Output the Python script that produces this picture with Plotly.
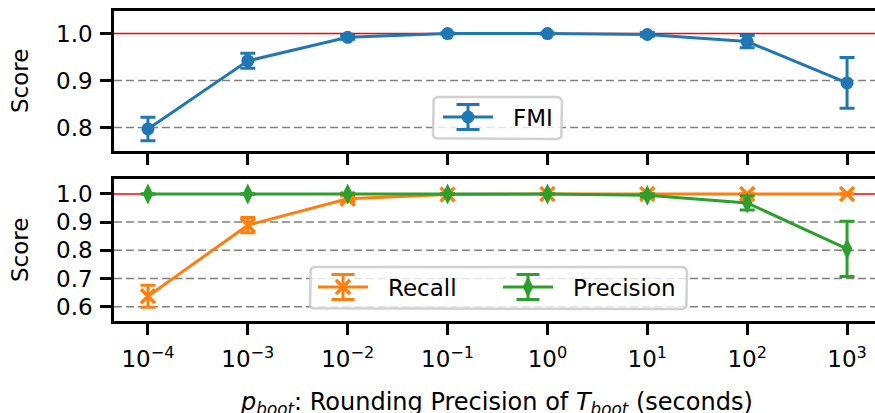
import plotly.graph_objects as go

# ---------------- data ----------------
p_boot = [1e-4, 1e-3, 1e-2, 1e-1, 1e0, 1e1, 1e2, 1e3]
tick_labels = ["10<sup>−4</sup>", "10<sup>−3</sup>", "10<sup>−2</sup>", "10<sup>−1</sup>",
               "10<sup>0</sup>", "10<sup>1</sup>", "10<sup>2</sup>", "10<sup>3</sup>"]
fmi = [0.797, 0.942, 0.992, 1.000, 1.000, 0.998, 0.983, 0.895]
fmi_err = [0.025, 0.016, 0.004, 0.001, 0.001, 0.004, 0.013, 0.054]
recall = [0.637, 0.889, 0.983, 0.998, 1.000, 1.000, 1.000, 1.000]
recall_err = [0.039, 0.027, 0.010, 0.002, 0.001, 0.001, 0.001, 0.001]
precision = [1.000, 1.000, 1.000, 1.000, 1.000, 0.995, 0.968, 0.805]
precision_err = [0.001, 0.001, 0.001, 0.001, 0.001, 0.006, 0.025, 0.098]
top_ticks = [0.8, 0.9, 1.0]
bottom_ticks = [0.6, 0.7, 0.8, 0.9, 1.0]
reference_score = 1.0

BLUE, ORANGE, GREEN = "#1f77b4", "#ff7f0e", "#2ca02c"
W, H = 875, 413
FONT = "DejaVu Sans"
FS = 23


def px_x(v):
    return v / W


def px_y(v):
    return 1 - v / H


fig = go.Figure()


def err(arr, color):
    return dict(type="data", array=arr, visible=True, color=color, thickness=3, width=7.5)


fig.add_trace(go.Scatter(x=p_boot, y=fmi, error_y=err(fmi_err, BLUE), mode="lines+markers",
                         line=dict(color=BLUE, width=3), marker=dict(symbol="circle", size=13, color=BLUE),
                         xaxis="x", yaxis="y", showlegend=False))
fig.add_trace(go.Scatter(x=p_boot, y=recall, error_y=err(recall_err, ORANGE), mode="lines+markers",
                         line=dict(color=ORANGE, width=3),
                         marker=dict(symbol="x-thin", size=14, color=ORANGE, line=dict(color=ORANGE, width=3.5)),
                         xaxis="x2", yaxis="y2", showlegend=False))
fig.add_trace(go.Scatter(x=p_boot, y=precision, error_y=err(precision_err, GREEN), mode="lines+markers",
                         line=dict(color=GREEN, width=3),
                         marker=dict(symbol="diamond-tall", size=15, color=GREEN),
                         xaxis="x2", yaxis="y2", showlegend=False))


# ---------------- custom legends (overlay pixel axis) ----------------
def rounded_box(x0, y0, x1, y1, r=5, n=6):
    import math
    pts = []
    corners = [(x1 - r, y0 + r, -90), (x1 - r, y1 - r, 0), (x0 + r, y1 - r, 90), (x0 + r, y0 + r, 180)]
    for cx, cy, a0 in corners:
        for i in range(n + 1):
            a = math.radians(a0 + 90 * i / n)
            pts.append((cx + r * math.cos(a), cy + r * math.sin(a)))
    pts.append(pts[0])
    return [p[0] for p in pts], [p[1] for p in pts]


def legend_box(x0, y0, x1, y1):
    bx, by = rounded_box(x0, y0, x1, y1)
    fig.add_trace(go.Scatter(x=bx, y=by, mode="lines", fill="toself", fillcolor="rgba(255,255,255,0.8)",
                             line=dict(color="rgba(204,204,204,0.9)", width=2.5), xaxis="x3", yaxis="y3",
                             showlegend=False, hoverinfo="skip"))


def legend_glyph(xc, yc, color, marker):
    fig.add_trace(go.Scatter(x=[xc - 25, xc + 25], y=[yc, yc], mode="lines", line=dict(color=color, width=3),
                             xaxis="x3", yaxis="y3", showlegend=False, hoverinfo="skip"))
    fig.add_trace(go.Scatter(x=[xc], y=[yc], mode="markers", marker=marker,
                             error_y=dict(type="constant", value=12.5, color=color, thickness=3, width=11.5),
                             xaxis="x3", yaxis="y3", showlegend=False, hoverinfo="skip"))


legend_box(433, 97, 562, 139)
legend_glyph(468, 117, BLUE, dict(symbol="circle", size=13, color=BLUE))
legend_box(310, 267, 687, 309)
legend_glyph(343, 287, ORANGE, dict(symbol="x-thin", size=14, color=ORANGE, line=dict(color=ORANGE, width=3.5)))
legend_glyph(528, 287, GREEN, dict(symbol="diamond-tall", size=15, color=GREEN))

annotations = [
    dict(text="FMI", x=px_x(511), y=px_y(118), xref="paper", yref="paper", xanchor="left", yanchor="middle",
         showarrow=False, font=dict(family=FONT, size=FS, color="black")),
    dict(text="Recall", x=px_x(386), y=px_y(288), xref="paper", yref="paper", xanchor="left", yanchor="middle",
         showarrow=False, font=dict(family=FONT, size=FS, color="black")),
    dict(text="Precision", x=px_x(571), y=px_y(288), xref="paper", yref="paper", xanchor="left",
         yanchor="middle", showarrow=False, font=dict(family=FONT, size=FS, color="black")),
    dict(text="Score", x=px_x(20), y=px_y(81), xref="paper", yref="paper", textangle=-90, xanchor="center",
         yanchor="middle", showarrow=False, font=dict(family=FONT, size=FS, color="black")),
    dict(text="Score", x=px_x(20), y=px_y(250), xref="paper", yref="paper", textangle=-90, xanchor="center",
         yanchor="middle", showarrow=False, font=dict(family=FONT, size=FS, color="black")),
    dict(text="<i>p</i><sub><i>boot</i></sub>: Rounding Precision of <i>T</i><sub><i>boot</i></sub> (seconds)",
         x=px_x(496), y=px_y(403), xref="paper", yref="paper", xanchor="center", yanchor="middle",
         showarrow=False, font=dict(family=FONT, size=24, color="black")),
]

# dashed grid lines (as shapes so the red reference line can sit on top of them)
grid_style = dict(color="#808080", width=1.5, dash="8px,4px")
shapes = []
for v in top_ticks:
    if v != reference_score:
        shapes.append(dict(type="line", xref="x domain", yref="y", x0=0, x1=1, y0=v, y1=v,
                           line=grid_style, layer="below"))
for v in bottom_ticks:
    if v != reference_score:
        shapes.append(dict(type="line", xref="x2 domain", yref="y2", x0=0, x1=1, y0=v, y1=v,
                           line=grid_style, layer="below"))
shapes += [
    dict(type="line", xref="x domain", yref="y", x0=0, x1=1, y0=reference_score, y1=reference_score,
         line=dict(color="red", width=1.5), layer="below"),
    dict(type="line", xref="x2 domain", yref="y2", x0=0, x1=1, y0=reference_score, y1=reference_score,
         line=dict(color="red", width=1.5), layer="below"),
]

xdom = [px_x(114), 1.0]
common_x = dict(type="log", range=[-4.34, 3.28], domain=xdom, showline=True, linecolor="black", linewidth=2.5,
                mirror=True, ticks="outside", ticklen=11, tickwidth=2.5, tickcolor="black",
                tickvals=p_boot, showgrid=False, zeroline=False, fixedrange=True)
common_y = dict(showline=True, linecolor="black", linewidth=2.5, mirror=False, ticks="outside", ticklen=11,
                tickwidth=2.5, tickcolor="black", showgrid=False, zeroline=False, fixedrange=True,
                ticklabelstandoff=3, tickfont=dict(family=FONT, size=FS, color="black"))

fig.update_layout(
    width=W, height=H, margin=dict(l=0, r=0, t=0, b=0),
    paper_bgcolor="white", plot_bgcolor="rgba(0,0,0,0)",
    font=dict(family=FONT, size=FS, color="black"),
    showlegend=False,
    xaxis=dict(**common_x, anchor="y", showticklabels=False),
    xaxis2=dict(**common_x, anchor="y2", ticktext=tick_labels, ticklabelstandoff=5,
                tickfont=dict(family=FONT, size=FS, color="black")),
    yaxis=dict(**common_y, domain=[px_y(151), px_y(11)], range=[0.750, 1.048], anchor="x",
               tickvals=top_ticks, ticktext=[f"{v:.1f}" for v in top_ticks]),
    yaxis2=dict(**common_y, domain=[px_y(321), px_y(179)], range=[0.549, 1.053], anchor="x2",
                tickvals=bottom_ticks, ticktext=[f"{v:.1f}" for v in bottom_ticks]),
    xaxis3=dict(domain=[0, 1], range=[0, W], visible=False, anchor="y3", fixedrange=True),
    yaxis3=dict(domain=[0, 1], range=[H, 0], visible=False, anchor="x3", fixedrange=True),
    annotations=annotations,
    shapes=shapes,
)

fig.write_html("out.html")
